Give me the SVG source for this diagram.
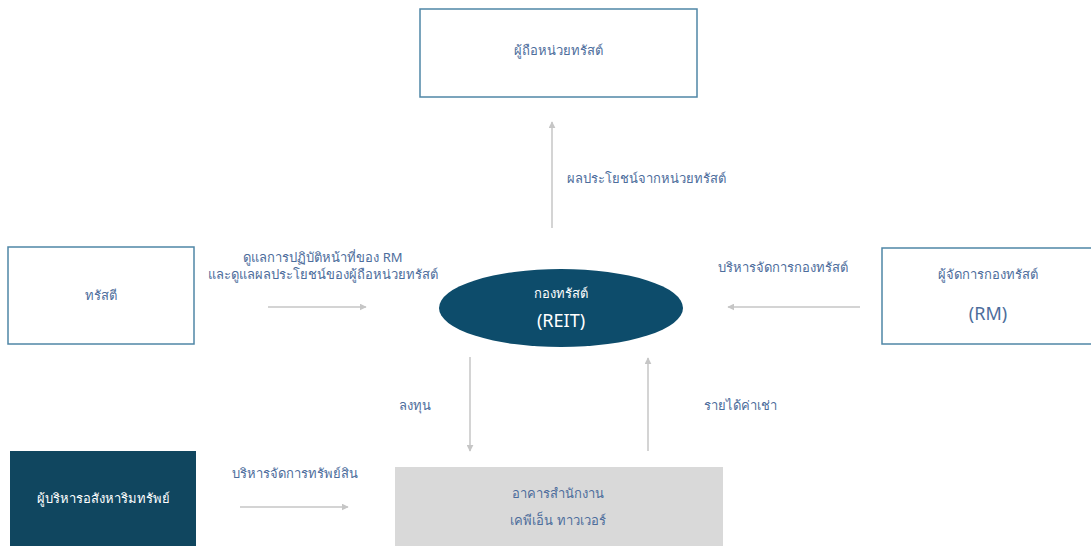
<svg xmlns="http://www.w3.org/2000/svg" width="1091" height="546" viewBox="0 0 1091 546">
  <style>
    .box { fill: #ffffff; stroke: #4f86a6; stroke-width: 1.5; }
    .lbl { font-family: "Noto Sans", "Liberation Sans", sans-serif; font-size: 13px; fill: #4d6d9c; text-anchor: middle; }
    .wht { font-family: "Noto Sans", "Liberation Sans", sans-serif; fill: #ffffff; text-anchor: middle; }
    .con { stroke: #c6c6c6; stroke-width: 1.5; fill: none; marker-end: url(#ah); }
  </style>
  <defs>
    <marker id="ah" viewBox="0 0 10 10" refX="9" refY="5" markerWidth="7" markerHeight="7" markerUnits="userSpaceOnUse" orient="auto">
      <path d="M0,0 L10,5 L0,10 z" fill="#c6c6c6"/>
    </marker>
  </defs>
  <rect width="1091" height="546" fill="#ffffff"/>

  <g id="unitholders">
    <rect class="box" x="420" y="9" width="277" height="88"/>
    <text class="lbl" x="558" y="55">ผู้ถือหน่วยทรัสต์</text>
  </g>

  <g id="trustee">
    <rect class="box" x="8" y="247" width="186" height="97"/>
    <text class="lbl" x="101" y="300">ทรัสตี</text>
  </g>

  <g id="reit">
    <ellipse cx="561" cy="308" rx="122" ry="39" fill="#0d4c6b"/>
    <text class="wht" x="561" y="298" font-size="13">กองทรัสต์</text>
    <text class="wht" x="561" y="327" font-size="18">(REIT)</text>
  </g>

  <g id="manager">
    <rect class="box" x="882" y="248" width="215" height="96"/>
    <text class="lbl" x="988" y="279">ผู้จัดการกองทรัสต์</text>
    <text class="lbl" x="988" y="320" style="font-size:18px">(RM)</text>
  </g>

  <g id="property-manager">
    <rect x="10" y="451" width="186" height="100" fill="#10465f"/>
    <text class="wht" x="103" y="503" font-size="13">ผู้บริหารอสังหาริมทรัพย์</text>
  </g>

  <g id="building">
    <rect x="395" y="467" width="328" height="84" fill="#d9d9d9"/>
    <text class="lbl" x="558" y="498">อาคารสำนักงาน</text>
    <text class="lbl" x="558" y="525">เคพีเอ็น ทาวเวอร์</text>
  </g>

  <g id="connectors">
    <line class="con" x1="552" y1="228" x2="552" y2="122"/>
    <line class="con" x1="268" y1="307" x2="366" y2="307"/>
    <line class="con" x1="860" y1="307" x2="728" y2="307"/>
    <line class="con" x1="470" y1="357" x2="470" y2="451"/>
    <line class="con" x1="648" y1="451" x2="648" y2="358"/>
    <line class="con" x1="240" y1="507" x2="348" y2="507"/>
    <text class="lbl" x="567" y="183" style="text-anchor:start">ผลประโยชน์จากหน่วยทรัสต์</text>
    <text class="lbl" x="323" y="262">ดูแลการปฏิบัติหน้าที่ของ RM</text>
    <text class="lbl" x="323" y="279">และดูแลผลประโยชน์ของผู้ถือหน่วยทรัสต์</text>
    <text class="lbl" x="783" y="272">บริหารจัดการกองทรัสต์</text>
    <text class="lbl" x="415" y="410">ลงทุน</text>
    <text class="lbl" x="740" y="410">รายได้ค่าเช่า</text>
    <text class="lbl" x="295" y="478">บริหารจัดการทรัพย์สิน</text>
  </g>
</svg>
